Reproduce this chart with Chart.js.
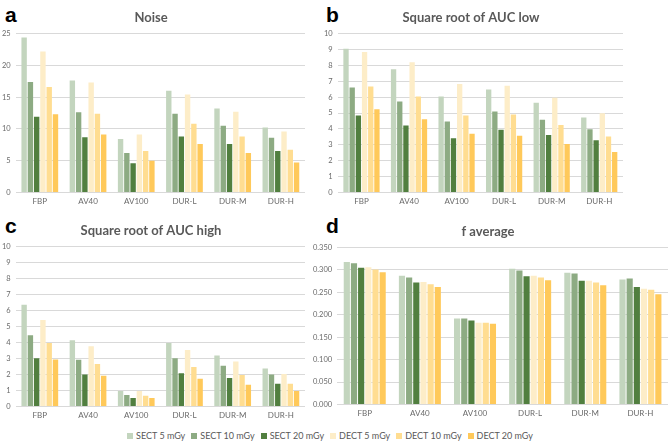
<!DOCTYPE html>
<html>
<head>
<meta charset="utf-8">
<script src="https://cdn.jsdelivr.net/npm/chart.js@4.4.0/dist/chart.umd.min.js"></script>
<style>
  body { margin: 0; background: #fff; width: 669px; height: 442px; position: relative; overflow: hidden; font-family: Lato, sans-serif; }
  .panel { position: absolute; }
  .tag { position: absolute; font: bold 21px "Liberation Sans", Arial, sans-serif; color: #000; }
  #legend { position: absolute; left: 0; width: 660px; top: 430px; display: flex; justify-content: center; gap: 6px; font-size: 9px; color: #595959; }
  #legend span.box { display: inline-block; width: 6px; height: 6px; margin-right: 3px; vertical-align: 0px; }
</style>
</head>
<body>
<div class="tag" style="left:5px;top:3px">a</div>
<div class="tag" style="left:326px;top:3px">b</div>
<div class="tag" style="left:5px;top:214px">c</div>
<div class="tag" style="left:326px;top:214px">d</div>

<div class="panel" style="left:-3px;top:0;width:321px;height:214px"><canvas id="chartA"></canvas></div>
<div class="panel" style="left:315px;top:0;width:321px;height:214px"><canvas id="chartB"></canvas></div>
<div class="panel" style="left:-3px;top:213px;width:321px;height:215px"><canvas id="chartC"></canvas></div>
<div class="panel" style="left:304px;top:214px;width:365px;height:212px"><canvas id="chartD"></canvas></div>
<div id="legend"></div>

<script>
// categories and series
const categories = ["FBP", "AV40", "AV100", "DUR-L", "DUR-M", "DUR-H"];
const seriesNames = ["SECT 5 mGy", "SECT 10 mGy", "SECT 20 mGy", "DECT 5 mGy", "DECT 10 mGy", "DECT 20 mGy"];
const seriesColors = ["#c3d5be", "#8dab83", "#517f3f", "#fdedc8", "#ffdd91", "#ffc95a"];

// a: Noise (rows = series, cols = categories)
const noise = [
  [24.4, 17.6, 8.4, 16.0, 13.2, 10.2],
  [17.4, 12.6, 6.2, 12.4, 10.5, 8.6],
  [11.9, 8.7, 4.6, 8.8, 7.6, 6.5],
  [22.2, 17.3, 9.1, 15.4, 12.7, 9.6],
  [16.6, 12.4, 6.5, 10.8, 8.8, 6.7],
  [12.3, 9.1, 5.0, 7.6, 6.2, 4.7]
];
// b: Square root of AUC low
const aucLow = [
  [9.05, 7.75, 6.04, 6.48, 5.64, 4.72],
  [6.60, 5.73, 4.46, 5.09, 4.57, 3.98],
  [4.84, 4.21, 3.41, 3.94, 3.62, 3.28],
  [8.84, 8.20, 6.82, 6.72, 5.96, 4.99],
  [6.67, 6.04, 4.84, 4.90, 4.25, 3.52],
  [5.24, 4.61, 3.70, 3.56, 3.05, 2.55]
];
// c: Square root of AUC high
const aucHigh = [
  [6.36, 4.14, 0.97, 3.97, 3.19, 2.37],
  [4.46, 2.92, 0.72, 3.02, 2.54, 1.99],
  [3.02, 1.99, 0.53, 2.07, 1.78, 1.42],
  [5.41, 3.76, 0.97, 3.53, 2.81, 2.03],
  [3.97, 2.66, 0.66, 2.47, 1.97, 1.42],
  [2.94, 1.92, 0.53, 1.73, 1.35, 0.97]
];
// d: f average
const fAverage = [
  [0.318, 0.287, 0.192, 0.303, 0.294, 0.279],
  [0.315, 0.283, 0.192, 0.299, 0.292, 0.281],
  [0.305, 0.272, 0.187, 0.286, 0.276, 0.262],
  [0.306, 0.273, 0.182, 0.287, 0.276, 0.258],
  [0.301, 0.268, 0.182, 0.283, 0.272, 0.256],
  [0.295, 0.262, 0.180, 0.277, 0.266, 0.246]
];

Chart.defaults.font.family = "Lato, 'Open Sans', sans-serif";
Chart.defaults.color = "#595959";
Chart.defaults.animation = false;

function makeChart(id, title, values, max, step, decimals, pad) {
  const ctx = document.getElementById(id).getContext("2d");
  return new Chart(ctx, {
    type: "bar",
    data: {
      labels: categories,
      datasets: values.map((v, i) => ({
        label: seriesNames[i],
        data: v,
        backgroundColor: seriesColors[i],
        barPercentage: 0.86,
        categoryPercentage: 0.78
      }))
    },
    options: {
      responsive: true,
      maintainAspectRatio: false,
      layout: { padding: pad },
      plugins: {
        legend: { display: false },
        tooltip: { enabled: false },
        title: {
          display: true,
          text: title,
          color: "#595959",
          font: { size: 13, weight: "bold" },
          padding: { top: 2, bottom: 8 }
        }
      },
      scales: {
        x: {
          grid: { display: false, drawTicks: false },
          border: { display: false },
          ticks: { font: { size: 8 }, color: "#6a6a6a", padding: 4 }
        },
        y: {
          min: 0,
          max: max,
          border: { display: false },
          grid: { color: "#d9d9d9", drawTicks: false },
          ticks: {
            stepSize: step,
            font: { size: 7.5 },
            color: "#6a6a6a",
            padding: 5,
            callback: v => v.toFixed(decimals)
          }
        }
      }
    }
  });
}

makeChart("chartA", "Noise", noise, 25, 5, 0, { left: 0, right: 13, top: 8, bottom: 4 });
makeChart("chartB", "Square root of AUC low", aucLow, 10, 1, 0, { left: 4, right: 13, top: 8, bottom: 4 });
makeChart("chartC", "Square root of AUC high", aucHigh, 10, 1, 0, { left: 0, right: 13, top: 8, bottom: 4 });
makeChart("chartD", "f average", fAverage, 0.35, 0.05, 3, { left: 4, right: 1, top: 8, bottom: 4 });

// shared legend
const legend = document.getElementById("legend");
seriesNames.forEach((name, i) => {
  const item = document.createElement("div");
  item.innerHTML = '<span class="box" style="background:' + seriesColors[i] + '"></span>' + name;
  legend.appendChild(item);
});
</script>
</body>
</html>
